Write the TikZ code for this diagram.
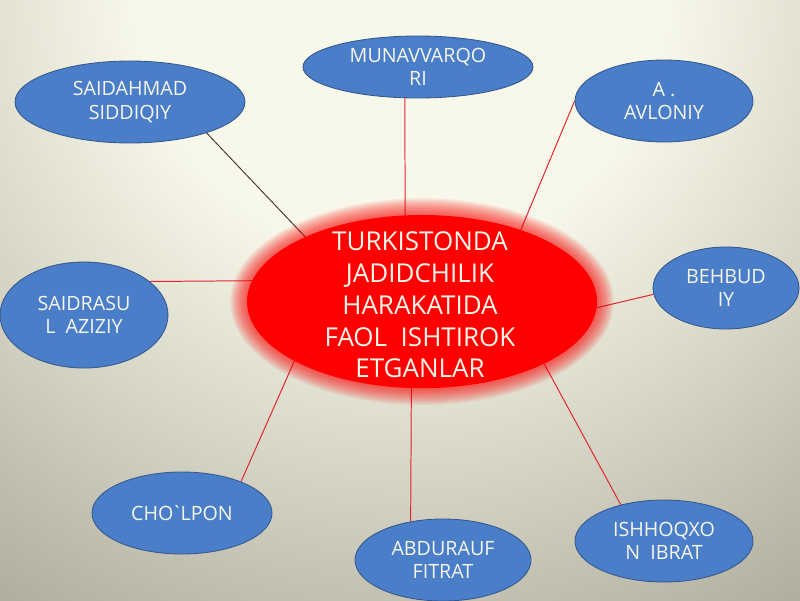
\documentclass[tikz,border=0pt]{standalone}
\usepackage{fontspec}
\newfontfamily\labelfont{Open Sans}
\usetikzlibrary{shapes.geometric}

\definecolor{bgtop}{HTML}{F8F8EA}
\definecolor{bgbottom}{HTML}{7E7B69}
\definecolor{nodeblue}{HTML}{4A7EC9}
\definecolor{nodeedge}{HTML}{34578C}
\definecolor{labelwhite}{HTML}{F6F6EA}
\definecolor{linkred}{HTML}{E32330}
\definecolor{linkdark}{HTML}{4B3B3B}
\pgfdeclareradialshading{bgglow}{\pgfpoint{0bp}{0bp}}{color(0bp)=(bgtop); color(6bp)=(bgtop); color(24bp)=(bgbottom); color(50bp)=(bgbottom)}
\pgfdeclarelayer{back}
\pgfdeclarelayer{wires}
\pgfsetlayers{back,wires,main}

\begin{document}
\begin{tikzpicture}[
            person/.style={ellipse, draw=nodeedge, line width=0.6pt, fill=nodeblue, inner sep=0pt,
                text=labelwhite, align=center, font=\labelfont\fontsize{14}{16.8}\selectfont},
            hub/.style={ellipse, fill=red, inner sep=0pt, minimum width=8.75cm, minimum height=4.33cm},
            hubtext/.style={text=labelwhite, align=center, font=\labelfont\fontsize{18.5}{22.7}\selectfont},
            link/.style={linkred, line width=0.7pt}]
            \useasboundingbox (0,0) rectangle (20,-15);
            \clip (0,0) rectangle (20,-15);
            \begin{pgfonlayer}{back}
                \shade [shading=bgglow] (10,0.3) circle (27.5);
            \end{pgfonlayer}
            % red centre and its glow
            \coordinate (mid) at (10.55,-7.54);
            \foreach \g in {12,11,...,1}
                \fill [red, opacity=0.07] (mid) ellipse ({4.375+0.035*\g} and {2.165+0.035*\g});
            \node [hub] (hub) at (mid) {};
            \node [hubtext] (title) at (10.5,-7.62) {TURKISTONDA\\JADIDCHILIK\\HARAKATIDA\\FAOL\ \ ISHTIROK\\ETGANLAR};
            % names
            \node [person, minimum width=5.75cm, minimum height=2.05cm] (siddiqiy) at (3.25,-2.55) {SAIDAHMAD\\SIDDIQIY};
            \node [person, minimum width=5.75cm, minimum height=1.55cm] (munavvar) at (10.45,-1.675) {MUNAVVARQO\\RI};
            \node [person, minimum width=4.45cm, minimum height=2.05cm] (avloniy) at (16.6,-2.525) {A .\\AVLONIY};
            \node [person, minimum width=3.65cm, minimum height=2.05cm] (behbudiy) at (18.15,-7.2) {BEHBUD\\IY};
            \node [person, minimum width=4.2cm, minimum height=2.65cm] (aziziy) at (2.1,-7.875) {SAIDRASU\\L\ \ AZIZIY};
            \node [person, minimum width=4.5cm, minimum height=2.05cm] (cholpon) at (4.55,-12.825) {CHO\kern-1.5pt`\kern-1.5pt LPON};
            \node [person, minimum width=4.4cm, minimum height=2.05cm] (fitrat) at (11.075,-14.0) {ABDURAUF\\FITRAT};
            \node [person, minimum width=4.45cm, minimum height=2.05cm] (ibrat) at (16.6,-13.525) {ISHHOQXO\\N\ \ IBRAT};
            % links, under the glow
            \begin{pgfonlayer}{wires}
                \draw [linkdark, line width=0.7pt] (siddiqiy.338) -- (hub.151);
                \draw [link] (munavvar.247) -- (hub.101);
                \draw [link] (avloniy.180) -- (hub.36);
                \draw [link] (behbudiy.185) -- (hub.358);
                \draw [link] (aziziy.27) -- (hub.173);
                \draw [link] (cholpon.28) -- (hub.205);
                \draw [link] (fitrat.130) -- (hub.263);
                \draw [link] (ibrat.140) -- (hub.333);
            \end{pgfonlayer}
        \end{tikzpicture}
\end{document}
